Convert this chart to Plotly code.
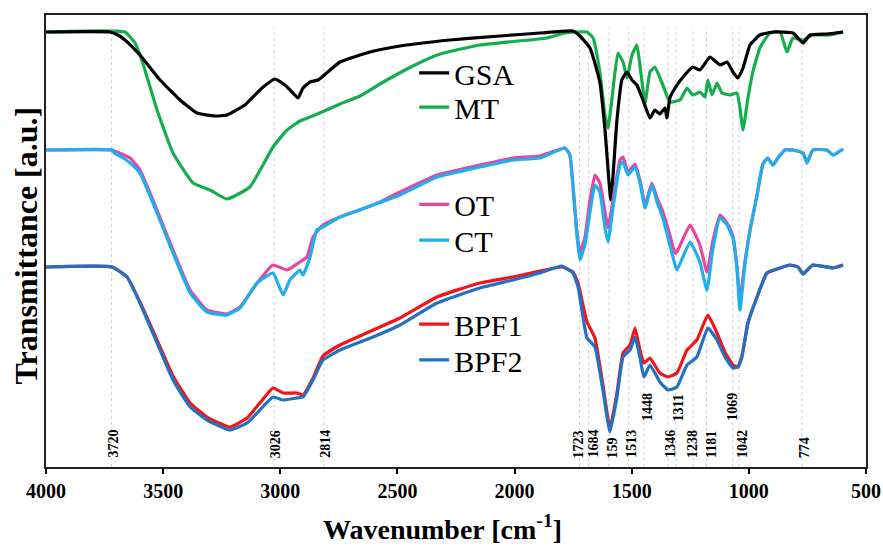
import plotly.graph_objects as go

# ---------------- data (wavenumber cm-1, transmittance a.u., offset stacks) ----------------
GSA_wn = [4000,3727,3693,3663,3599,3513,3428,3356,3279,3228,3151,3078,3023,2980,2950,2924,2903,2873,2839,2745,
          2617,2489,2276,2062,1892,1751,1721,1678,1636,1614,1589,1563,1542,1520,1499,1478,1452,1422,1401,1380,
          1358,1350,1337,1315,1281,1239,1209,1166,1123,1093,1068,1047,1025,995,953,897,812,769,739,667,598]
GSA_T = [431,431,428,423,408,383,363,350,347,348,358,375,384,378,371,365,375,381,383,401,
         411,417,423,427,430,432,427,415,381,333,263,343,383,391,383,378,363,345,353,349,
         355,345,365,375,386,396,393,406,398,401,391,385,395,418,428,431,430,420,428,429,431]

MT_wn = [4000,3663,3620,3587,3526,3458,3372,3300,3228,3130,3031,2971,2916,2873,2822,2745,2660,2575,2434,2318,
         2148,1862,1785,1742,1691,1665,1636,1614,1601,1584,1559,1537,1520,1499,1478,1465,1443,1422,1401,1367,
         1337,1294,1264,1239,1209,1187,1175,1157,1136,1115,1081,1051,1038,1025,1004,983,953,910,867,837,
         812,769,727,654,598]
MT_T = [431,431,420,400,353,310,280,273,264,276,316,333,342,346,351,359,367,379,397,409,
        418,425,430,431,431,425,391,348,335,365,410,401,385,408,418,398,360,391,396,378,
        361,363,375,368,371,366,383,368,380,370,368,370,355,333,365,391,415,430,431,411,
        425,423,428,428,431]

OT_wn = [4000,3718,3697,3641,3599,3526,3458,3385,3313,3228,3172,3099,3031,2971,2916,2886,2860,2818,2745,2604,
         2489,2331,2148,2007,1892,1785,1764,1751,1734,1721,1700,1678,1657,1636,1614,1601,1580,1550,1537,1516,
         1486,1465,1443,1414,1392,1367,1337,1315,1307,1251,1209,1179,1153,1123,1093,1068,1051,1038,1017,995,
         965,940,919,897,876,846,812,769,752,727,667,641,598]
OT_T = [313,313,311,305,293,253,213,173,153,149,156,180,198,193,201,206,226,238,246,258,
        271,288,298,305,307,315,308,278,231,211,225,263,288,280,251,235,263,303,306,291,
        299,283,258,280,265,251,228,210,211,238,218,191,223,248,240,227,197,163,201,233,
        268,299,305,298,305,313,313,310,300,313,313,308,314]

CT_wn = [4000,3718,3708,3670,3641,3599,3526,3458,3385,3313,3228,3172,3099,3031,2988,2959,2916,2903,2873,2844,
         2818,2745,2604,2489,2331,2148,2007,1892,1785,1764,1751,1734,1721,1700,1678,1657,1636,1614,1601,1580,
         1550,1537,1516,1486,1465,1443,1414,1392,1367,1337,1315,1307,1251,1209,1179,1153,1123,1093,1068,1051,
         1038,1017,995,965,940,919,897,876,846,812,769,752,727,667,641,598]
CT_T = [313,313,310,305,300,290,250,210,170,151,148,155,180,190,168,183,193,188,206,233,
        236,246,258,268,286,296,303,305,315,308,278,228,203,218,251,278,271,235,221,255,
        298,301,288,296,281,255,278,261,245,218,198,193,221,201,173,215,245,238,225,195,
        153,198,233,268,299,305,298,305,313,313,310,300,313,313,308,314]

BPF_wn = [4000,3718,3654,3599,3526,3458,3385,3313,3215,3142,3087,3031,2988,2929,2903,2860,2818,2745,2604,2489,
          2331,2148,2007,1892,1798,1751,1729,1708,1691,1657,1623,1593,1563,1537,1507,1486,1465,1448,1422,1380,
          1345,1307,1264,1222,1175,1136,1102,1068,1047,1030,1004,965,923,867,825,790,769,727,641,598]
BPF1_T = [196,196,186,161,123,87,60,46,36,45,60,75,70,70,68,85,107,118,133,145,
          166,180,186,192,196,191,180,158,141,125,78,35,70,110,118,135,113,100,105,90,
          86,90,113,123,148,130,111,98,96,106,140,166,190,195,198,196,189,198,195,198]
BPF2_T = [196,196,186,160,120,83,56,43,33,40,53,66,63,65,66,83,103,113,126,138,
          160,175,183,190,197,190,176,146,125,116,73,31,66,106,113,126,106,86,98,81,
          73,76,98,106,135,123,106,95,96,106,140,166,190,195,198,196,189,198,195,198]

# marked bands: label text, position, high (True) / low row
PEAK_WN = [3720, 3026, 2814, 1723, 1684, 1597, 1513, 1448, 1346, 1311, 1238, 1181, 1069, 1042, 774]
PEAK_TXT = ["3720", "3026", "2814", "1723", "1684", "159", "1513", "1448", "1346", "1311", "1238", "1181",
            "1069", "1042", "774"]
PEAK_HIGH = [False, False, False, False, False, False, False, True, False, True, False, False, True, False, False]
PEAK_SHIFT = [1, 1, 1, -1, 4, 4, 2, 3, 2, 3, -1, 5, -1, 3, 3]

X_TICKS = [4000, 3500, 3000, 2500, 2000, 1500, 1000, 500]

for a, b in [(GSA_wn, GSA_T), (MT_wn, MT_T), (OT_wn, OT_T), (CT_wn, CT_T), (BPF_wn, BPF1_T), (BPF_wn, BPF2_T)]:
    assert len(a) == len(b), (len(a), len(b))

SERIF = "Liberation Serif"

fig = go.Figure()

# (name, x, y, colour, legend id, legend row y in paper units)
series = [
    ("MT", MT_wn, MT_T, "#14AE4C", "legend2", 0.796),
    ("GSA", GSA_wn, GSA_T, "#000000", "legend", 0.872),
    ("OT", OT_wn, OT_T, "#E8459E", "legend3", 0.581),
    ("CT", CT_wn, CT_T, "#1FAEEE", "legend4", 0.502),
    ("BPF1", BPF_wn, BPF1_T, "#F2141A", "legend5", 0.316),
    ("BPF2", BPF_wn, BPF2_T, "#2271C2", "legend6", 0.237),
]
legends = {}
for name, xs, ys, col, leg, ly in series:
    fig.add_trace(go.Scatter(
        x=xs, y=ys, mode="lines", name=name,
        line=dict(color=col, width=3.2, shape="spline", smoothing=0.4),
        legend=leg,
    ))
    legends[leg] = dict(font=dict(family=SERIF, size=30, color="black"), bgcolor="rgba(0,0,0,0)",
                        xanchor="left", yanchor="middle", itemwidth=30, x=0.449, y=ly)

shapes = []
for wn in PEAK_WN:
    shapes.append(dict(type="line", xref="x", yref="y", x0=wn, x1=wn, y0=-4, y1=435,
                       line=dict(color="#cfcfcf", width=1, dash="dot"), layer="below"))

annotations = []
for wn, txt, hi, sh in zip(PEAK_WN, PEAK_TXT, PEAK_HIGH, PEAK_SHIFT):
    annotations.append(dict(x=wn, y=40 if hi else 3, xref="x", yref="y", text=txt, showarrow=False,
                            textangle=-90, xanchor="center", yanchor="bottom", xshift=sh,
                            font=dict(family=SERIF, size=14, color="black", weight="bold")))

# axis titles placed as annotations for exact positions
annotations.append(dict(x=0.483, y=-0.133, xref="paper", yref="paper", text="Wavenumber [cm<sup>-1</sup>]",
                        showarrow=False, xanchor="center", yanchor="middle",
                        font=dict(family=SERIF, size=28, color="black", weight="bold")))
annotations.append(dict(x=-0.024, y=0.491, xref="paper", yref="paper", text="Transmittance [a.u.]",
                        showarrow=False, xanchor="center", yanchor="middle", textangle=-90,
                        font=dict(family=SERIF, size=32, color="black", weight="bold")))

fig.update_layout(
    width=883, height=545,
    margin=dict(l=46, r=17, t=15, b=78, autoexpand=False),
    paper_bgcolor="white", plot_bgcolor="white",
    showlegend=True,
    shapes=shapes,
    annotations=annotations,
    xaxis=dict(range=[4000, 500], tickvals=X_TICKS, ticks="outside", ticklen=5, tickwidth=1.5,
               tickcolor="black", showline=True, linecolor="#222", linewidth=1.5, mirror=True,
               showgrid=False, zeroline=False, automargin=False,
               tickfont=dict(family=SERIF, size=20, color="black", weight="bold")),
    yaxis=dict(range=[-4, 448], showticklabels=False, ticks="", showline=True, linecolor="#222",
               linewidth=1.5, mirror=True, showgrid=False, zeroline=False, automargin=False),
    **legends,
)

fig.write_html("out.html", config={"displayModeBar": False},
               post_script="document.body.style.margin='0';")
